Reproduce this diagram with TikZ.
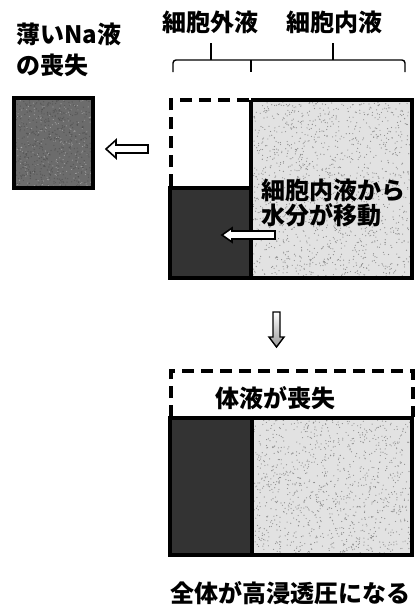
\documentclass[tikz,border=0pt]{standalone}
\usepackage{fontspec}
\setmainfont{Noto Sans CJK JP}
\definecolor{lightfill}{HTML}{E2E2E2}
\definecolor{speck}{HTML}{8E8E8E}
\definecolor{darkfill}{HTML}{333333}
\definecolor{midfill}{HTML}{6C6C6C}
\tikzset{
  lbl/.style={font=\fontsize{24}{26}\selectfont\bfseries, inner sep=0pt},
  boxline/.style={line width=3.4pt},
  dashline/.style={line width=3.4pt, dash pattern=on 12pt off 7pt},
  blk/.style={inner sep=0pt, outer sep=0pt, anchor=north west},
  brk/.style={line width=1.4pt},
}
\begin{document}
\begin{tikzpicture}[x=1pt,y=-1pt]
\useasboundingbox (0,0) rectangle (418,611);
\fill[white] (0,0) rectangle (418,611);
\pgfmathsetseed{7}

% labels top-left
\node[lbl, anchor=west] (na) at (16,34) {薄いNa液};
\node[lbl, anchor=west] (loss) at (16,65) {の喪失};

% column labels
\node[lbl] (ecf) at (210,22) {細胞外液};
\node[lbl] (icf) at (334,22) {細胞内液};

% bracket
\coordinate (bl) at (173,72);
\coordinate (br) at (405,72);
\coordinate (bm) at (251,72);
\coordinate (t1) at (211,43);
\coordinate (t2) at (333,43);
\draw[brk, rounded corners=3pt] (bl) -- (173,60) -- (405,60) -- (br);
\draw[brk] (t1) -- (211,60);
\draw[brk] (t2) -- (333,60);
\draw[brk] (251,60) -- (bm);

% small lost box
\node[blk, fill=midfill, minimum width=79pt, minimum height=90pt] (small) at (14,98) {};
\foreach \i in {1,...,500} {
  \pgfmathsetmacro{\xx}{16+rnd*75}
  \pgfmathsetmacro{\yy}{100+rnd*86}
  \fill[black!75, opacity=0.45] (\xx,\yy) circle (0.7pt);
}
\foreach \i in {1,...,200} {
  \pgfmathsetmacro{\xx}{16+rnd*75}
  \pgfmathsetmacro{\yy}{100+rnd*86}
  \fill[white, opacity=0.35] (\xx,\yy) circle (0.6pt);
}
\draw[boxline] (14,98) rectangle (93,188);

% top main box: light ICF
\node[blk, fill=lightfill, minimum width=161pt, minimum height=178pt] (icfbox) at (251,100) {};
\foreach \i in {1,...,1400} {
  \pgfmathsetmacro{\xx}{253+rnd*157}
  \pgfmathsetmacro{\yy}{102+rnd*174}
  \fill[speck] (\xx,\yy) circle (0.6pt);
}
% dark ECF
\node[blk, fill=darkfill, minimum width=81pt, minimum height=90pt] (ecfbox) at (170,188) {};
\draw[boxline] (251,100) -- (412,100) -- (412,278) -- (170,278) -- (170,188) -- (251,188);
\draw[boxline] (251,100) -- (251,278);
\draw[dashline] (171,186) -- (171,100) -- (251,100);

% arrow to small box
\coordinate (arr1) at (106,149);
\draw[fill=white, line width=1.6pt, line join=miter] (arr1) -- ++(10,-9) -- ++(0,5) -- ++(32,0) -- ++(0,8) -- ++(-32,0) -- ++(0,5) -- cycle;

% text in box
\node[lbl, anchor=west] (move1) at (261,190) {細胞内液から};
\node[lbl, anchor=west] (move2) at (261,215) {水分が移動};

% white arrow inside
\coordinate (arr2) at (222,235);
\draw[fill=white, line width=1.6pt, line join=miter] (arr2) -- ++(10,-7) -- ++(0,3) -- ++(43,0) -- ++(0,8) -- ++(-43,0) -- ++(0,3) -- cycle;

% down arrow
\coordinate (arr3) at (276.5,347);
\draw[line width=1.4pt, line join=miter, top color=white, bottom color=black!40]
  (arr3) -- ++(-7.5,-10) -- ++(4,0) -- ++(0,-25) -- ++(7,0) -- ++(0,25) -- ++(4,0) -- cycle;

% bottom box
\node[blk, fill=lightfill, minimum width=160pt, minimum height=137pt] (icfbox2) at (252,418) {};
\foreach \i in {1,...,1100} {
  \pgfmathsetmacro{\xx}{254+rnd*156}
  \pgfmathsetmacro{\yy}{420+rnd*133}
  \fill[speck] (\xx,\yy) circle (0.6pt);
}
\node[blk, fill=darkfill, minimum width=82pt, minimum height=137pt] (ecfbox2) at (170,418) {};
\draw[boxline] (170,418) rectangle (412,555);
\draw[boxline] (252,418) -- (252,555);
\draw[dashline] (171,417) -- (171,371) -- (413,371) -- (413,417);

\node[lbl] (lost) at (275,398) {体液が喪失};
\node[lbl] (hyper) at (290,593) {全体が高浸透圧になる};
\end{tikzpicture}
\end{document}
